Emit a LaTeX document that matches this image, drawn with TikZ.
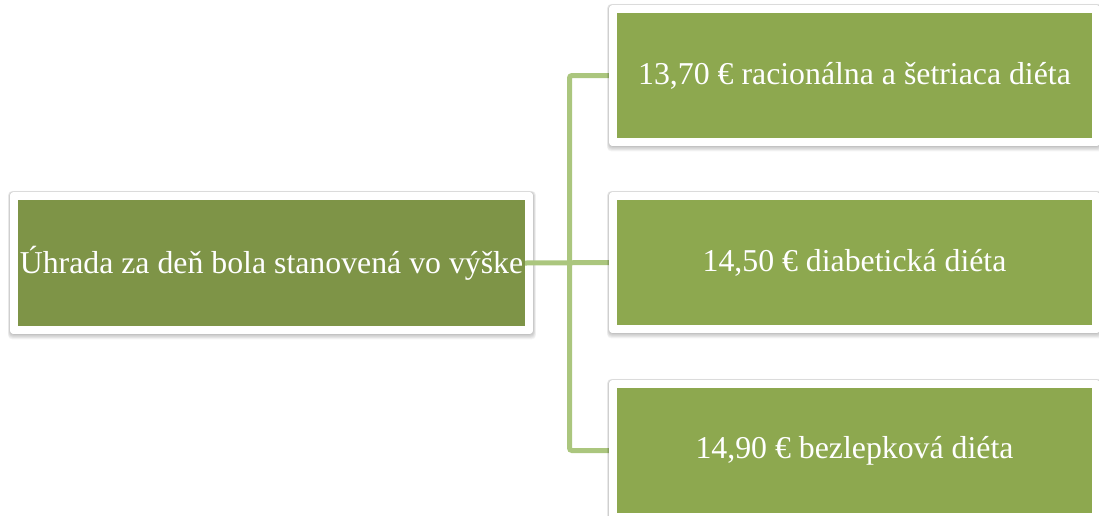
\documentclass[tikz,border=0pt]{standalone}
\usepackage{fontspec}
\setmainfont{Liberation Serif}
\usetikzlibrary{fit,calc}
\definecolor{leftgreen}{HTML}{7E9447}
\definecolor{rightgreen}{HTML}{8DA84F}
\definecolor{linegreen}{HTML}{ABC67E}
\pgfdeclarelayer{layA}
\pgfdeclarelayer{layB}
\pgfdeclarelayer{layC}
\pgfsetlayers{layA,layB,layC,main}
\newcommand{\myshadowframe}[1]{%
  \foreach \i in {1,...,6}{%
    \fill[black, opacity=0.045, rounded corners=4pt]
      ($(#1.north west)+(-0.35*\i,-0.2*\i)$) rectangle ($(#1.south east)+(0.5*\i,0.9*\i)$);
  }%
  \fill[white, rounded corners=3pt] (#1.north west) rectangle (#1.south east);
}
\begin{document}
\begin{tikzpicture}[x=1pt,y=-1pt,
  greenbox/.style={inner sep=0pt, text=white, font=\fontsize{31.8}{38}\selectfont, anchor=center},
  leftbox/.style={greenbox, fill=leftgreen, minimum width=507pt, minimum height=126pt},
  rightbox/.style={greenbox, fill=rightgreen, minimum width=475pt, minimum height=125pt},
  frame/.style={inner sep=7.5pt},
  conn/.style={draw=linegreen, line width=5pt, rounded corners=2.5pt}]
\useasboundingbox (0,0) rectangle (1099,515);
\node[leftbox] (L) at (271.5,263) {Úhrada za deň bola stanovená vo výške};
\node[rightbox] (T) at (854.5,75.5) {13,70 € racionálna a šetriaca diéta};
\node[rightbox] (M) at (854.5,262.5) {14,50 € diabetická diéta};
\node[rightbox] (B) at (854.5,450.5) {14,90 € bezlepková diéta};
\coordinate (J) at (569.5,262.5);
\begin{pgfonlayer}{layA}
  \node[frame, fit=(L)] (Lf) {};
  \myshadowframe{Lf}
\end{pgfonlayer}
\begin{pgfonlayer}{layB}
  \draw[conn] (T.west) -| (J) |- (B.west);
  \draw[conn] (L.east) -- (M.west);
\end{pgfonlayer}
\begin{pgfonlayer}{layC}
  \node[frame, fit=(T)] (Tf) {};
  \node[frame, fit=(M)] (Mf) {};
  \node[frame, fit=(B)] (Bf) {};
  \myshadowframe{Tf}
  \myshadowframe{Mf}
  \myshadowframe{Bf}
\end{pgfonlayer}
\end{tikzpicture}
\end{document}
